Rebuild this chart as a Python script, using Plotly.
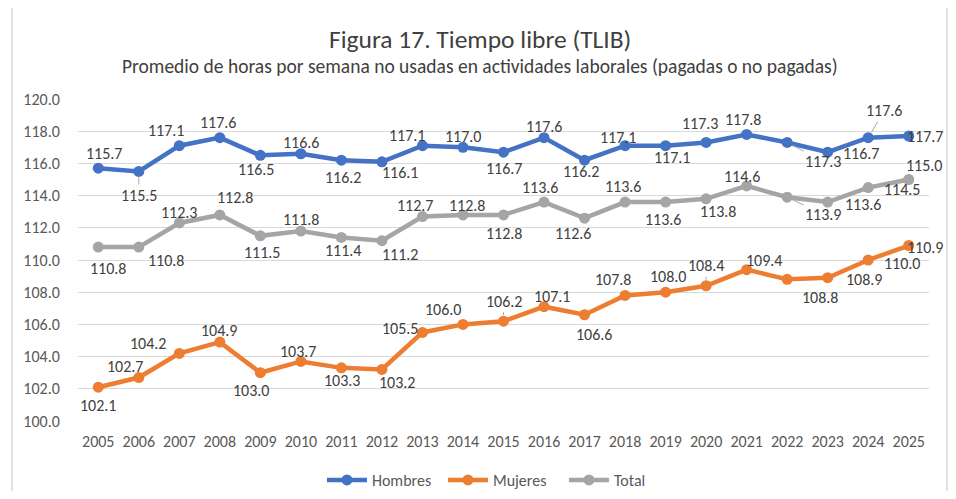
import plotly.graph_objects as go

years = list(range(2005, 2026))
hombres = [115.7, 115.5, 117.1, 117.6, 116.5, 116.6, 116.2, 116.1, 117.1, 117.0, 116.7,
           117.6, 116.2, 117.1, 117.1, 117.3, 117.8, 117.3, 116.7, 117.6, 117.7]
mujeres = [102.1, 102.7, 104.2, 104.9, 103.0, 103.7, 103.3, 103.2, 105.5, 106.0, 106.2,
           107.1, 106.6, 107.8, 108.0, 108.4, 109.4, 108.8, 108.9, 110.0, 110.9]
total = [110.8, 110.8, 112.3, 112.8, 111.5, 111.8, 111.4, 111.2, 112.7, 112.8, 112.8,
         113.6, 112.6, 113.6, 113.6, 113.8, 114.6, 113.9, 113.6, 114.5, 115.0]
y_ticks = [100, 102, 104, 106, 108, 110, 112, 114, 116, 118, 120]

# label offsets in pixels (dx, dy; dy positive = down) and leader-line flags (style only)
off_h = [(6, -15), (0, 24), (-13, -15), (-2, -15), (-4, 14), (0, -11), (2, 17), (18, 11),
         (-15, -10), (0, -11), (0, 16), (0, -11), (-4, 11), (-7, -8), (6, 12), (-6, -19),
         (-4, -15), (36, 19), (33, 1), (16, -27), (16, 0)]
lead_h = {1, 17, 19}
off_t = [(10, 21), (27, 13), (0, -10), (15, -17), (2, 17), (0, -12), (2, 13), (18, 14),
         (-7, -11), (4, -9), (0, 19), (-4, -15), (-12, 15), (-2, -16), (-3, 17), (12, 13),
         (-5, -9), (36, 17), (35, 2), (34, 2), (15, -14)]
lead_t = {17}
off_m = [(0, 18), (-14, -11), (-31, -10), (-1, -12), (-9, 18), (-3, -10), (1, 13), (15, 13),
         (-22, -4), (-20, -15), (0, -20), (8, -10), (9, 20), (-12, -16), (2, -16), (0, -20),
         (17, -9), (33, 18), (36, 2), (34, 3), (16, 2)]
lead_m = {10, 15}

FONT = "Carlito, Calibri, Lato, sans-serif"
LABEL_FONT = dict(family=FONT, size=16, color="#404040")

fig = go.Figure()
annotations = []
for name, vals, color, offs, leads in [("Hombres", hombres, "#4472C4", off_h, lead_h),
                                       ("Mujeres", mujeres, "#ED7D31", off_m, lead_m),
                                       ("Total", total, "#A5A5A5", off_t, lead_t)]:
    fig.add_trace(go.Scatter(
        x=years, y=vals, name=name, mode="lines+markers",
        line=dict(color=color, width=4.5),
        marker=dict(color=color, size=11),
        cliponaxis=False,
    ))
    for i, (yr, v) in enumerate(zip(years, vals)):
        dx, dy = offs[i]
        if i in leads:
            annotations.append(dict(x=yr, y=v, xref="x", yref="y", text=f"{v:.1f}",
                                    showarrow=True, arrowhead=0, arrowwidth=1,
                                    arrowcolor="#A6A6A6", ax=dx, ay=dy, standoff=6,
                                    font=LABEL_FONT))
        else:
            annotations.append(dict(x=yr, y=v, xref="x", yref="y", text=f"{v:.1f}",
                                    showarrow=False, xshift=dx, yshift=-dy,
                                    font=LABEL_FONT))

# page body has an 8px margin: figure is 940x483 and plot area is 851x322
annotations += [
    dict(text="Figura 17. Tiempo libre (TLIB)", xref="paper", yref="paper",
         x=(480 - 78) / 851, y=(421 - 39) / 322, xanchor="center", yanchor="middle",
         showarrow=False, font=dict(family=FONT, size=25.5, color="#404040")),
    dict(text="Promedio de horas por semana no usadas en actividades laborales (pagadas o no pagadas)",
         xref="paper", yref="paper", x=(480 - 78) / 851, y=(421 - 66) / 322, xanchor="center",
         yanchor="middle", showarrow=False,
         font=dict(family=FONT, size=19.5, color="#404040")),
]

fig.update_layout(
    width=940, height=483,
    margin=dict(l=70, r=19, t=91, b=70, autoexpand=False),
    paper_bgcolor="white", plot_bgcolor="white",
    font=dict(family=FONT, color="#595959"),
    showlegend=True,
    legend=dict(orientation="h", xref="container", yref="container",
                x=0.334, xanchor="left", y=1 - 472 / 483, yanchor="middle",
                font=dict(family=FONT, size=16, color="#595959"),
                itemwidth=40, entrywidth=66, entrywidthmode="pixels",
                traceorder="normal"),
    xaxis=dict(range=[2004.5, 2025.5], tickvals=years, showgrid=False, showline=False,
               zeroline=False, ticks="outside", ticklen=6, tickcolor="rgba(0,0,0,0)",
               automargin=False,
               tickfont=dict(family=FONT, size=16, color="#595959")),
    yaxis=dict(range=[100, 120], tickvals=y_ticks, tickformat=".1f",
               showgrid=True, gridcolor="#D9D9D9", gridwidth=1, zeroline=False,
               showline=False, ticks="outside", ticklen=14, tickcolor="rgba(0,0,0,0)",
               automargin=False,
               tickfont=dict(family=FONT, size=16, color="#595959")),
    annotations=annotations,
    shapes=[dict(type="rect", xref="paper", yref="paper", x0=(12 - 78) / 851, x1=(947 - 78) / 851,
                 y0=(421 - 510) / 322, y1=(421 - 6) / 322, line=dict(color="#D9D9D9", width=1.5),
                 fillcolor="rgba(0,0,0,0)", layer="below")],
)

fig.write_html("out.html")
